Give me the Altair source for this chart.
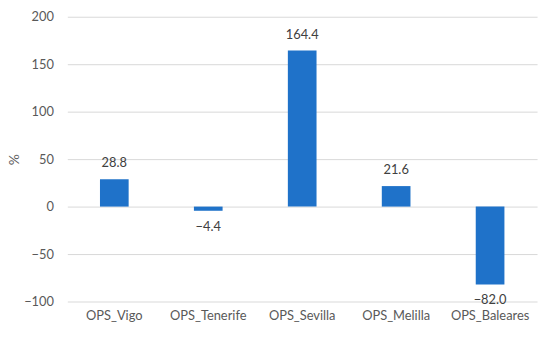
import altair as alt
import pandas as pd

categories = ["OPS_Vigo", "OPS_Tenerife", "OPS_Sevilla", "OPS_Melilla", "OPS_Baleares"]
values = [28.8, -4.4, 164.4, 21.6, -82.0]

df = pd.DataFrame({"cat": categories, "val": values})
df["label"] = [("−" if v < 0 else "") + f"{abs(v):.1f}" for v in values]

font = "Lato"
x = alt.X("cat:N", sort=categories, title=None,
          scale=alt.Scale(paddingInner=0, paddingOuter=0),
          axis=alt.Axis(labelAngle=0, ticks=False, domain=False, grid=False, labelPadding=8,
                        labelFontSize=13, labelColor="#595959", labelFont=font))
y = alt.Y("val:Q", title="%",
          scale=alt.Scale(domain=[-100, 200], nice=False),
          axis=alt.Axis(values=[-100, -50, 0, 50, 100, 150, 200], ticks=False, domain=False,
                        grid=True, gridColor="#d9d9d9", labelFontSize=13, labelColor="#595959",
                        labelFont=font, labelPadding=14, titleFont=font, titleFontSize=14,
                        titleColor="#595959", titleFontWeight="normal", titlePadding=2))

bars = alt.Chart(df).mark_bar(size=29, color="#1f72c9").encode(x=x, y=y)

xt = alt.X("cat:N", sort=categories)
yt = alt.Y("val:Q")
pos = alt.Chart(df[df.val >= 0]).mark_text(dy=-16, fontSize=13, font=font, color="#404040").encode(
    x=xt, y=yt, text="label:N")
neg = alt.Chart(df[df.val < 0]).mark_text(dy=16, fontSize=13, font=font, color="#404040").encode(
    x=xt, y=yt, text="label:N")

chart = (bars + pos + neg).properties(
    width=475, height=288,
    background="white",
    autosize=alt.AutoSizeParams(type="none"),
    padding={"left": 60, "top": 7, "right": 5, "bottom": 30},
).configure_view(stroke=None, strokeWidth=0)

chart.save("out.html", embed_options={"renderer": "svg", "actions": False})
